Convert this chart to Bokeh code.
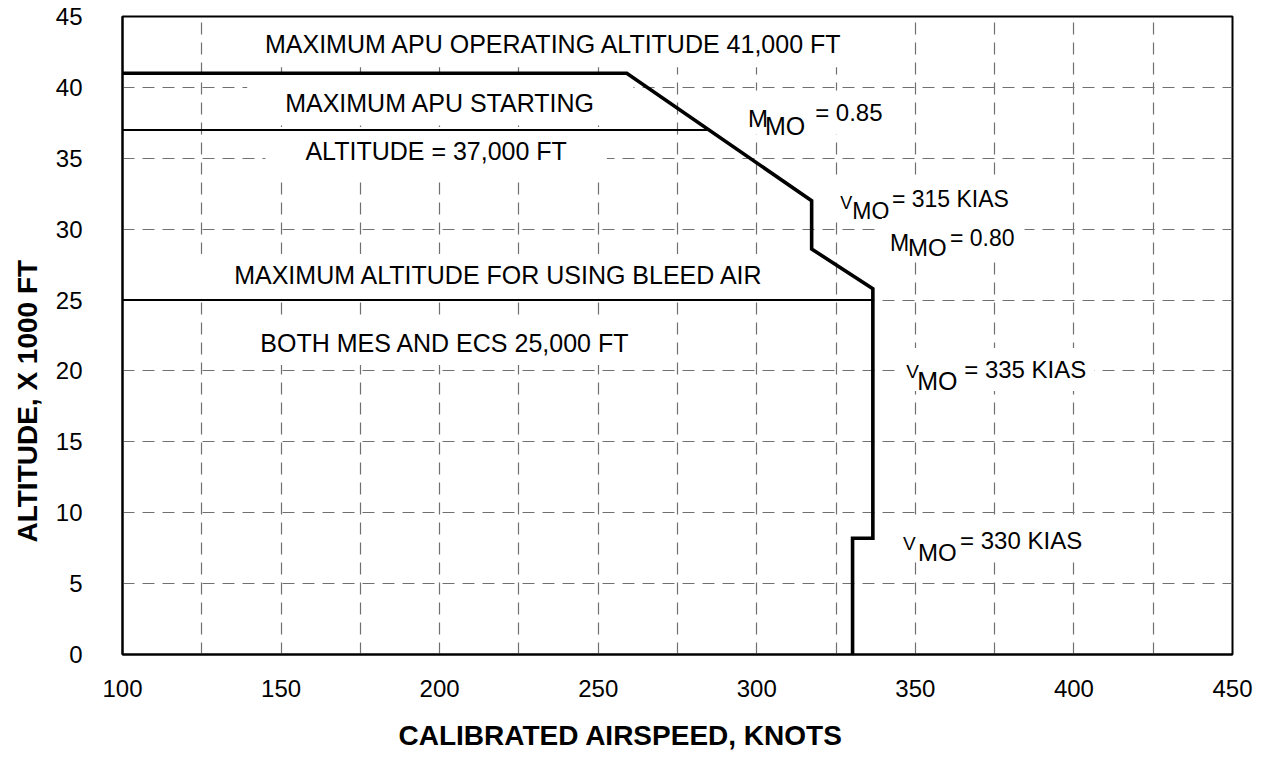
import math
from bokeh.plotting import figure
from bokeh.models import Range1d, FixedTicker, Label, Title
from bokeh.embed import file_html
from bokeh.resources import INLINE

# ---------------- data ----------------
# operating envelope (calibrated airspeed, knots / altitude x1000 ft)
env_speed = [100, 259, 317.3, 317.3, 336.6, 336.6, 330.2, 330.2]
env_alt = [41, 41, 32.0, 28.6, 25.8, 8.2, 8.2, 0]
# max APU starting altitude line
apu_start_speed = [100, 284.8]
apu_start_alt = [37, 37]
# max altitude for using bleed air line
bleed_speed = [100, 336.6]
bleed_alt = [25, 25]

x_ticks = [100, 150, 200, 250, 300, 350, 400, 450]
x_minor = [125, 175, 225, 275, 325, 375, 425]
y_ticks = [0, 5, 10, 15, 20, 25, 30, 35, 40, 45]

X_TITLE = "CALIBRATED AIRSPEED, KNOTS"
Y_TITLE = "ALTITUDE, X 1000 FT"

FONT = "Liberation Sans"
GRID = "#707070"

p = figure(width=1270, height=773,
           x_range=Range1d(100, 450), y_range=Range1d(0, 45),
           output_backend="svg", toolbar_location=None,
           min_border_left=122, min_border_right=38,
           min_border_top=16, min_border_bottom=119,
           background_fill_color="white", border_fill_color="white",
           outline_line_color="black", outline_line_width=2)

# axes
p.xaxis.ticker = FixedTicker(ticks=x_ticks, minor_ticks=x_minor)
p.yaxis.ticker = FixedTicker(ticks=y_ticks)
for ax in (p.xaxis[0], p.yaxis[0]):
    ax.major_tick_line_color = None
    ax.minor_tick_line_color = None
    ax.major_tick_out = 0
    ax.major_tick_in = 0
    ax.minor_tick_out = 0
    ax.minor_tick_in = 0
    ax.axis_line_color = "black"
    ax.axis_line_width = 2
    ax.major_label_text_font = FONT
    ax.major_label_text_font_size = "24px"
    ax.major_label_text_color = "black"
p.xaxis.major_label_standoff = 25
p.yaxis.major_label_standoff = 40

# grid
p.xgrid.ticker = FixedTicker(ticks=x_ticks, minor_ticks=x_minor)
p.ygrid.ticker = FixedTicker(ticks=y_ticks)
for g in (p.xgrid[0], p.ygrid[0]):
    g.grid_line_color = GRID
    g.grid_line_width = 1.2
    g.grid_line_dash = "12 8"
p.xgrid.minor_grid_line_color = GRID
p.xgrid.minor_grid_line_width = 1.2
p.xgrid.minor_grid_line_dash = "12 8"

# axis titles (placed off-centre like the reference)
has_standoff = "standoff" in Title.properties()
tx = Title(text=X_TITLE, align="left", offset=276, vertical_align="top",
           text_font=FONT, text_font_size="28px", text_font_style="bold",
           text_color="black", text_baseline="top")
ty = Title(text=Y_TITLE, align="left", offset=112, vertical_align="bottom",
           text_font=FONT, text_font_size="28px", text_font_style="bold",
           text_color="black")
if has_standoff:
    tx.standoff = 40
    ty.standoff = 19
p.add_layout(tx, "below")
p.add_layout(ty, "left")

# lines (drawn above label backgrounds)
p.line(apu_start_speed, apu_start_alt, line_color="black", line_width=2, level="overlay")
p.line(bleed_speed, bleed_alt, line_color="black", line_width=2, level="overlay")
p.line(env_speed, env_alt, line_color="black", line_width=3.6,
       line_join="miter", level="overlay")


def lab(text, x, y, size, align="left", pad=None):
    kw = dict(x=x, y=y, text=text, text_font=FONT, text_font_size=f"{size}px",
              text_color="black", text_align=align, text_baseline="alphabetic")
    if pad is not None:
        # padding moves the text inside its box: compensate with offsets
        if align == "left":
            kw["x_offset"] = -pad["left"]
        elif align == "center":
            kw["x_offset"] = (pad["right"] - pad["left"]) / 2
        kw["y_offset"] = pad["top"]
        try:
            lbl = Label(background_fill_color="white", padding=pad, **kw)
        except Exception:
            kw.pop("x_offset", None)
            kw.pop("y_offset", None)
            lbl = Label(background_fill_color="white", **kw)
    else:
        lbl = Label(**kw)
    p.add_layout(lbl)


def box(l, r, t, b):
    return dict(left=l, right=r, top=t, bottom=b)

# region texts
lab("MAXIMUM APU OPERATING ALTITUDE 41,000 FT", 236.1, 42.40, 25, "center", box(50, 50, 9, 9))
lab("MAXIMUM APU STARTING", 200.2, 38.15, 25, "center", box(38, 38, 13, 9))
lab("ALTITUDE = 37,000 FT", 198.9, 34.70, 25, "center", box(40, 40, 10, 13))
lab("MAXIMUM ALTITUDE FOR USING BLEED AIR", 218.8, 26.16, 25, "center", box(48, 48, 7, 10))
lab("BOTH MES AND ECS 25,000 FT", 201.7, 21.30, 25, "center", box(40, 40, 11, 8))

# limit annotations: the last part carries the white background for the whole group
lab("= 0.85", 318.4, 37.66, 24, "left", box(75, 8, 8, 9))
lab("MO", 302.6, 37.31, 25)
lab("M", 297.25, 37.80, 24)

lab("= 315 KIAS", 342.6, 31.53, 23, "left", box(60, 8, 8, 8))
lab("MO", 330.1, 31.31, 23)
lab("V", 326.3, 31.88, 18)

lab("= 0.80", 360.9, 28.84, 23, "left", box(68, 10, 7, 8))
lab("MO", 347.7, 28.70, 24)
lab("M", 342.0, 29.05, 23)

lab("= 335 KIAS", 365.4, 19.53, 24, "left", box(66, 8, 8, 8))
lab("MO", 350.6, 19.32, 25)
lab("V", 347.1, 19.96, 19)

lab("= 330 KIAS", 364.1, 7.48, 24, "left", box(65, 8, 8, 8))
lab("MO", 350.8, 7.19, 24)
lab("V", 346.1, 7.83, 19)

open("out.html", "w").write(file_html(p, INLINE))
